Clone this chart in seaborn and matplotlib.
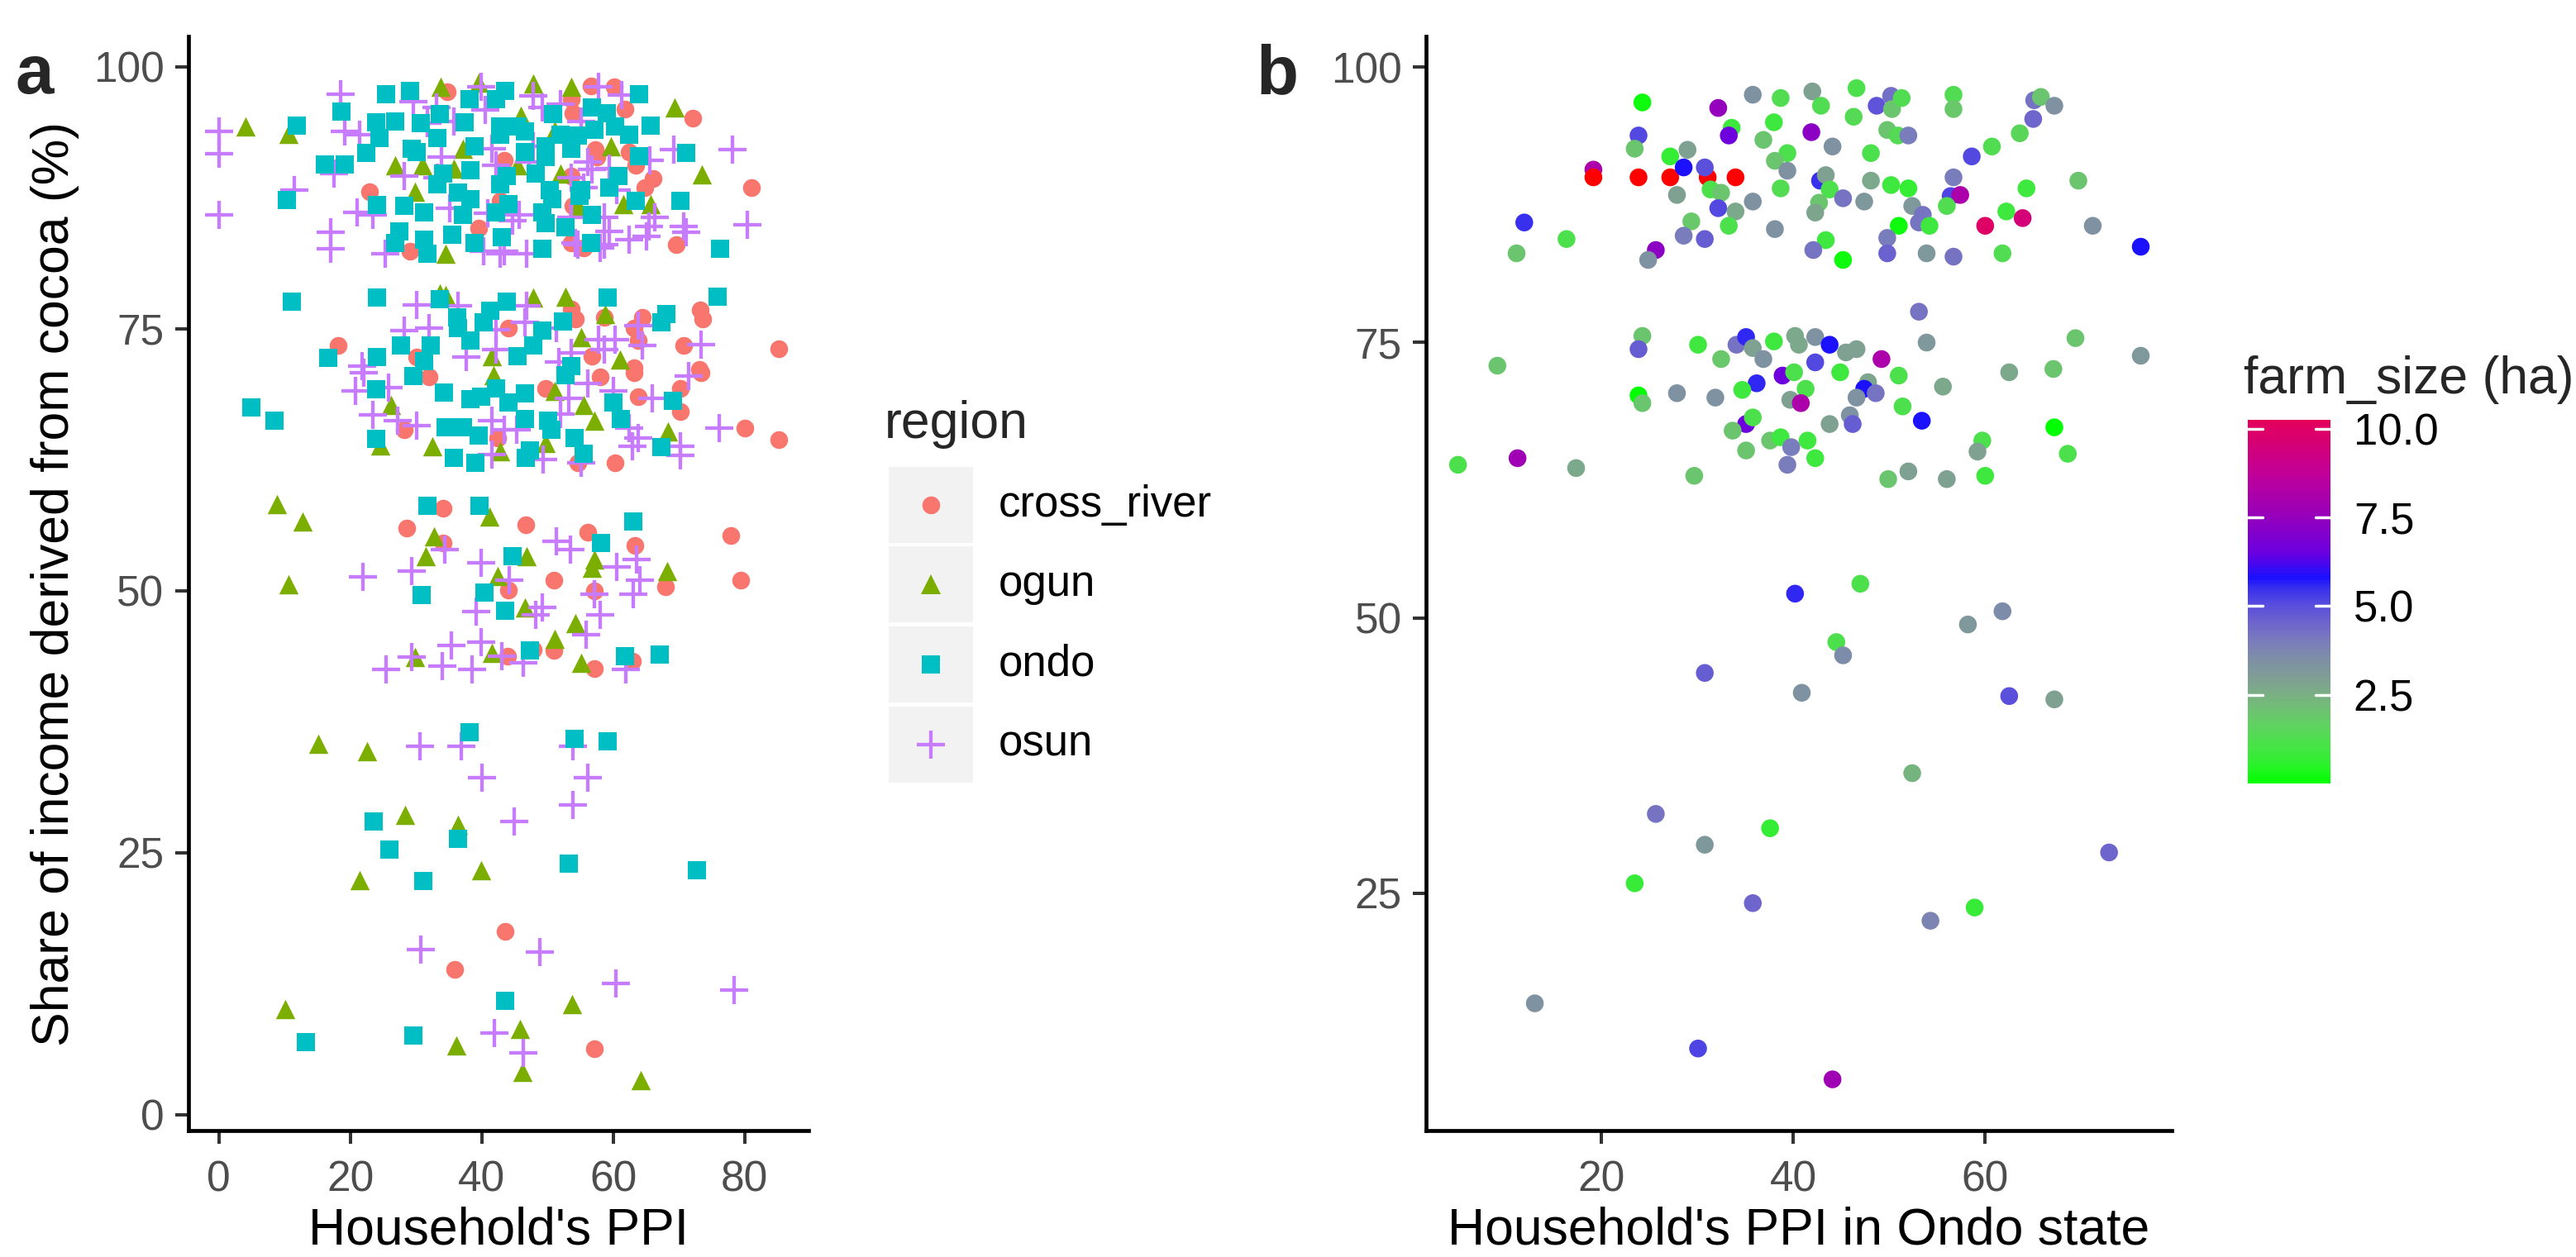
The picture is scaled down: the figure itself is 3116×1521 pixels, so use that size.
import numpy as np
import pandas as pd
import matplotlib
matplotlib.use("Agg")
import matplotlib.pyplot as plt
import matplotlib.colors as mcolors
from matplotlib.colors import LinearSegmentedColormap, Normalize
from matplotlib.patches import Rectangle
from matplotlib.lines import Line2D
import seaborn as sns

sns.set_theme(style="white")
plt.rcParams['font.family'] = ['Liberation Sans', 'DejaVu Sans']

# ---------------- DATA: panel a (PPI, share of income from cocoa) ----------------
cross_river = [
    (43.6, 17.5), (35.9, 13.9), (57.2, 6.3),
    (34.2, 57.9), (28.6, 56.0), (46.7, 56.3), (56.1, 55.6), (77.9, 55.3), (34.2, 54.6), (63.3, 54.3),
    (51.0, 51.0), (79.4, 51.0), (44.1, 50.1), (57.1, 50.0), (68.0, 50.4), (51.0, 44.3), (47.8, 44.4),
    (44.0, 43.8), (57.1, 42.6), (62.9, 43.3),
    (80.1, 65.5), (85.2, 64.4), (60.3, 62.2), (70.2, 69.3), (70.2, 67.1), (73.4, 70.8), (63.8, 68.5),
    (63.2, 70.8), (54.6, 62.2), (42.5, 64.6), (28.2, 65.4), (49.8, 69.3), (32.0, 70.4), (58.1, 70.4),
    (53.6, 76.9), (73.2, 76.8), (58.7, 76.1), (64.5, 76.1), (73.7, 75.9), (54.3, 75.9), (63.2, 75.1),
    (44.1, 75.1), (18.2, 73.4), (70.8, 73.4), (85.2, 73.1), (63.8, 73.9), (30.1, 72.3), (56.8, 72.4),
    (63.2, 71.3), (73.1, 71.1),
    (34.8, 97.6), (56.7, 98.2), (60.2, 98.1), (53.6, 96.9), (61.8, 96.0), (72.1, 95.1), (57.3, 92.1),
    (62.5, 91.9), (43.4, 91.1), (63.4, 90.6), (66.1, 89.3), (81.0, 88.5), (22.9, 88.1), (64.8, 88.5),
    (53.6, 89.6), (42.8, 87.2), (39.6, 84.6), (29.1, 82.4), (53.6, 83.2), (69.6, 83.0), (55.5, 82.7),
    (53.9, 95.6), (57.5, 91.4), (53.9, 86.7),
]
ogun = [
    (15.2, 35.4), (22.6, 34.7), (28.3, 28.6), (36.4, 27.7), (39.9, 23.3), (21.5, 22.4), (53.8, 10.6),
    (10.1, 10.1), (45.9, 8.2), (36.1, 6.6), (46.2, 4.1), (64.2, 3.3),
    (8.9, 58.3), (12.7, 56.6), (32.7, 55.2), (41.2, 57.1), (31.5, 53.3), (46.8, 53.3), (57.1, 53.0),
    (68.2, 51.9), (10.6, 50.6), (42.5, 51.4), (46.6, 48.4), (56.8, 52.2), (54.3, 46.9), (51.1, 45.4),
    (41.5, 44.1), (29.9, 43.7), (55.2, 43.1),
    (24.6, 63.9), (32.5, 63.8), (26.2, 67.7), (41.8, 70.6), (42.8, 63.3), (49.8, 64.1), (57.1, 66.2),
    (68.3, 65.2), (55.5, 67.7), (51.1, 69.1),
    (33.6, 78.4), (34.5, 78.2), (47.9, 78.0), (52.7, 78.1), (58.8, 76.4), (55.2, 74.2), (61.0, 72.1),
    (41.5, 72.4),
    (4.1, 94.3), (10.6, 93.6), (33.8, 98.1), (39.5, 98.5), (47.9, 98.4), (53.6, 98.1), (69.4, 96.1),
    (59.7, 92.4), (26.9, 90.6), (31.0, 90.6), (73.5, 89.7), (29.9, 88.1), (34.5, 82.2), (51.1, 93.9),
    (45.4, 90.6), (52.0, 89.8), (61.6, 86.9), (65.7, 86.9), (37.1, 92.2), (46.0, 95.3), (35.8, 90.3),
    (54.6, 86.7),
]
ondo = [
    (38.2, 36.5), (54.1, 35.9), (59.2, 35.6), (23.6, 28.0), (36.4, 26.3), (26.0, 25.3), (53.2, 24.0),
    (72.7, 23.3), (31.1, 22.3), (43.6, 10.9), (13.2, 6.9), (29.6, 7.6),
    (31.7, 58.1), (39.7, 58.1), (63.1, 56.6), (58.2, 54.6), (44.7, 53.3), (30.9, 49.6), (40.4, 49.8),
    (43.6, 48.1), (47.3, 44.3), (61.8, 43.8), (67.1, 43.9),
    (4.9, 67.5), (8.5, 66.2), (23.9, 69.2), (23.9, 64.5), (29.6, 70.5), (34.3, 68.9), (37.1, 65.6),
    (39.9, 68.5), (39.6, 64.8), (35.8, 62.7), (39.0, 62.2), (46.6, 68.8), (46.7, 62.7), (47.3, 63.4),
    (50.1, 66.2), (50.6, 65.4), (54.1, 64.6), (55.5, 63.1), (52.7, 70.6), (60.0, 68.0), (61.2, 66.4),
    (67.4, 63.7), (69.1, 68.1), (44.1, 68.0), (42.2, 69.3), (34.5, 65.6), (38.3, 68.3), (46.6, 66.4),
    (11.1, 77.6), (24.1, 78.0), (33.7, 77.8), (43.8, 77.6), (59.2, 78.0), (75.9, 78.1), (41.3, 76.7),
    (68.1, 76.4), (36.3, 76.1), (36.4, 75.1), (40.3, 75.6), (49.2, 74.8), (52.4, 75.7), (67.3, 75.6),
    (27.7, 73.4), (32.3, 73.4), (38.3, 73.9), (47.9, 73.4), (16.7, 72.2), (24.1, 72.3), (31.3, 71.9),
    (45.4, 72.4), (53.6, 71.4),
    (25.5, 97.4), (29.1, 97.7), (43.6, 97.7), (38.2, 96.9), (42.2, 96.9), (63.9, 97.4), (18.7, 95.7),
    (11.9, 94.4), (23.9, 94.7), (33.6, 95.5), (37.4, 94.7), (42.8, 94.3), (45.4, 94.3), (50.9, 95.5),
    (56.8, 96.1), (59.0, 95.6), (65.7, 94.4), (60.3, 94.3), (57.1, 94.0), (26.9, 94.8), (30.7, 94.6),
    (24.4, 93.2), (22.4, 91.8), (29.4, 92.2), (33.2, 93.2), (38.9, 92.4), (42.8, 93.5), (46.6, 93.8),
    (52.0, 93.5), (54.6, 93.4), (62.5, 93.5), (63.9, 91.5), (71.1, 91.8), (16.1, 90.7), (19.2, 90.7),
    (30.1, 91.9), (46.6, 91.9), (49.8, 92.4), (53.6, 92.2), (49.8, 91.4), (34.2, 89.8), (38.3, 90.1),
    (43.8, 89.6), (48.2, 89.8), (60.8, 89.6), (33.2, 88.8), (42.8, 88.8), (50.4, 88.2), (55.2, 88.2),
    (10.4, 87.3), (24.1, 86.8), (28.2, 86.7), (36.4, 88.0), (38.3, 87.4), (44.1, 86.9), (50.8, 87.4),
    (54.9, 87.7), (63.5, 87.2), (70.2, 87.2), (31.3, 86.1), (37.1, 85.9), (42.2, 86.1), (49.2, 86.1),
    (56.8, 85.9), (27.5, 84.3), (31.3, 83.5), (35.5, 84.0), (38.9, 83.2), (43.1, 83.7), (49.2, 82.6),
    (56.7, 83.2), (26.9, 83.2), (31.8, 82.2), (76.3, 82.6), (49.8, 85.1), (52.7, 84.7), (59.4, 88.5),
]
osun = [
    (30.6, 35.2), (36.9, 35.2), (53.9, 35.2), (40.1, 32.2), (56.2, 32.2), (53.9, 29.6), (44.9, 28.0),
    (30.7, 15.8), (48.9, 15.5), (60.4, 12.5), (78.4, 11.9), (42.0, 7.8), (46.4, 5.9),
    (51.4, 54.7), (53.5, 53.9), (34.4, 53.9), (39.9, 52.7), (29.4, 51.9), (60.6, 52.3), (63.6, 53.0),
    (22.0, 51.3), (44.2, 51.0), (64.1, 51.0), (57.1, 49.7), (63.1, 49.7), (39.2, 48.0), (49.2, 48.4),
    (48.2, 47.7), (58.0, 47.7), (55.9, 45.8), (35.4, 44.8), (39.9, 45.1), (29.4, 43.7), (25.4, 42.5),
    (34.0, 42.8), (38.5, 42.5), (46.3, 43.1), (62.0, 42.5), (43.1, 43.8),
    (22.1, 70.8), (20.8, 69.1), (23.4, 66.8), (27.2, 66.2), (30.1, 65.8), (25.9, 69.4), (41.5, 66.2),
    (43.4, 65.4), (45.3, 65.4), (49.3, 62.5), (53.3, 68.4), (55.2, 62.2), (62.5, 65.5), (63.8, 64.6),
    (66.0, 68.4), (62.9, 63.8), (70.2, 63.8), (70.2, 62.9), (76.2, 65.5), (71.5, 70.5), (60.0, 69.1),
    (41.5, 63.0), (52.0, 66.9), (56.2, 69.8),
    (30.1, 77.3), (36.4, 77.2), (46.9, 77.2), (46.6, 75.6), (28.2, 74.8), (32.0, 75.1), (42.2, 74.9),
    (51.4, 75.1), (57.8, 74.0), (60.3, 74.0), (63.8, 75.3), (73.4, 73.5), (58.7, 73.0), (53.6, 72.7),
    (37.7, 72.3), (42.2, 73.0), (64.5, 73.4), (51.7, 71.8), (21.8, 71.4),
    (0.0, 93.8), (0.0, 91.7), (0.0, 85.9), (18.6, 97.4), (39.9, 98.1), (57.8, 98.1), (61.3, 97.3),
    (29.6, 96.7), (33.1, 96.1), (19.2, 93.8), (21.5, 93.5), (11.5, 88.2), (17.6, 89.8), (28.2, 89.6),
    (21.1, 86.1), (23.4, 85.9), (17.0, 84.2), (17.0, 82.6), (25.3, 82.2), (69.2, 92.1), (78.2, 92.1),
    (65.6, 91.1), (80.4, 84.9), (66.4, 85.6), (70.8, 84.8), (71.1, 84.2), (65.4, 84.8), (65.1, 83.8),
    (62.5, 83.5), (59.4, 84.3), (58.7, 83.0), (54.6, 83.0), (49.2, 96.1), (47.9, 97.2), (52.0, 96.4),
    (55.2, 94.8), (40.6, 95.9), (35.8, 94.8), (31.7, 94.6), (33.9, 91.4), (41.5, 92.2), (47.9, 92.4),
    (56.2, 90.9), (56.8, 90.2), (59.4, 90.3), (33.2, 89.4), (42.2, 90.6), (47.2, 90.9), (53.6, 89.4),
    (55.5, 88.5), (60.6, 88.2), (35.2, 86.5), (40.9, 86.0), (45.7, 85.9), (53.6, 85.6), (58.7, 85.6),
    (40.3, 82.4), (42.8, 82.2), (46.9, 82.2), (54.3, 83.2), (58.1, 82.7), (44.7, 85.3), (43.4, 82.4),
]
regions = ["cross_river", "ogun", "ondo", "osun"]
region_colors = ["#F8766D", "#7CAE00", "#00BFC4", "#C77CFF"]
x_ticks_a = [0, 20, 40, 60, 80]
y_ticks_a = [0, 25, 50, 75, 100]

# ---------------- DATA: panel b (Ondo: PPI, share, farm size ha) ----------------
ondo_b = [
    (24.3, 96.8, 0.2), (32.2, 96.3, 7.5), (35.8, 97.5, 3.4), (38.7, 97.2, 1.3), (42.0, 97.8, 2.9),
    (42.9, 96.5, 1.3), (46.6, 98.1, 1.2), (46.3, 95.5, 1.4), (48.7, 96.5, 4.9), (50.2, 97.4, 4.3),
    (50.3, 96.2, 2.0), (51.3, 97.2, 1.3), (56.7, 97.5, 1.3), (56.7, 96.2, 1.9), (65.1, 97.0, 4.2),
    (65.8, 97.3, 2.0), (67.2, 96.5, 3.4), (65.0, 95.3, 4.5), (38.0, 95.0, 0.9), (33.6, 94.5, 0.9),
    (33.3, 93.8, 6.6), (41.9, 94.1, 7.3), (23.9, 93.8, 5.1), (23.5, 92.6, 2.0), (36.9, 93.4, 2.0),
    (49.8, 94.3, 2.0), (50.9, 93.8, 1.4), (52.0, 93.8, 4.0), (44.1, 92.8, 3.4), (48.1, 92.2, 1.2),
    (63.6, 94.0, 1.5), (60.7, 92.8, 1.3), (58.6, 91.9, 5.1), (27.2, 91.9, 0.7), (29.0, 92.5, 2.9),
    (39.4, 92.2, 1.2), (38.1, 91.5, 2.0), (39.4, 90.6, 3.4), (19.2, 90.7, 8.1),
    (19.2, 90.0, 12.0), (23.9, 90.0, 12.0), (27.2, 90.0, 12.0), (31.1, 90.0, 12.0), (34.0, 90.0, 12.0),
    (28.6, 90.9, 5.8), (30.8, 90.9, 5.0), (42.8, 89.7, 5.5), (43.4, 90.2, 2.9), (43.8, 88.9, 1.2),
    (48.1, 89.7, 2.7), (50.2, 89.3, 0.9), (52.0, 89.0, 0.7), (56.7, 90.0, 4.0), (56.4, 88.3, 5.2),
    (57.4, 88.4, 8.1), (64.3, 89.0, 0.9), (69.7, 89.7, 2.0), (38.7, 89.0, 1.3), (31.4, 88.9, 1.2),
    (32.5, 88.6, 2.0), (27.9, 88.4, 2.9), (35.8, 87.8, 3.4), (32.2, 87.2, 5.1), (34.0, 86.9, 2.7),
    (42.7, 87.7, 2.0), (42.3, 86.8, 2.8), (45.2, 88.1, 4.2), (47.4, 87.8, 3.2), (52.4, 87.4, 3.2),
    (56.0, 87.4, 1.3), (53.5, 86.6, 4.2), (53.1, 85.9, 4.2), (62.2, 86.9, 0.9), (63.9, 86.3, 9.5),
    (60.0, 85.6, 10.0), (51.0, 85.6, 0.2), (54.2, 85.6, 0.9), (71.2, 85.6, 3.4), (12.0, 85.9, 5.5),
    (29.4, 86.0, 1.9), (33.3, 85.6, 1.2), (38.1, 85.3, 3.4), (28.6, 84.7, 4.0), (30.8, 84.4, 4.7),
    (16.4, 84.4, 1.2), (43.4, 84.3, 0.9), (42.1, 83.4, 4.2), (49.8, 84.5, 4.0), (11.2, 83.1, 2.0),
    (25.7, 83.4, 7.3), (24.9, 82.5, 3.4), (45.2, 82.5, 0.2), (49.8, 83.1, 4.6), (53.9, 83.1, 3.2),
    (56.7, 82.8, 4.2), (61.8, 83.1, 1.3), (76.2, 83.7, 5.8), (53.1, 77.8, 4.2),
    (24.3, 75.6, 2.0), (23.9, 74.4, 4.7), (30.1, 74.8, 0.9), (34.1, 74.8, 4.2), (35.1, 75.5, 5.6),
    (35.8, 74.5, 2.9), (38.0, 75.1, 0.9), (40.2, 75.6, 2.7), (40.6, 74.8, 2.7), (42.3, 75.5, 3.4),
    (43.8, 74.8, 5.8), (46.6, 74.4, 2.9), (45.5, 74.1, 2.9), (53.9, 75.0, 3.2), (69.4, 75.4, 2.0),
    (76.2, 73.8, 3.2), (9.2, 72.9, 2.0), (32.5, 73.5, 1.9), (36.9, 73.5, 3.4), (42.3, 73.2, 5.1),
    (49.2, 73.5, 8.1), (62.5, 72.3, 2.7), (67.1, 72.6, 2.0), (38.9, 72.0, 6.6), (40.1, 72.3, 1.2),
    (36.2, 71.3, 5.6), (44.9, 72.3, 0.9), (51.0, 72.0, 1.2), (55.6, 71.0, 2.7), (34.7, 70.7, 0.9),
    (41.3, 70.8, 1.2), (47.8, 71.4, 2.8), (47.4, 70.8, 5.8), (48.6, 70.4, 4.2), (46.6, 70.0, 3.4),
    (27.9, 70.4, 3.4), (31.9, 70.0, 3.4), (23.9, 70.2, 0.0), (24.3, 69.5, 2.0), (39.7, 69.8, 2.9),
    (40.8, 69.5, 8.1), (51.4, 69.2, 1.2), (53.4, 67.9, 5.8), (67.2, 67.3, 0.0), (45.9, 68.4, 3.4),
    (46.2, 67.6, 4.7), (43.8, 67.6, 2.9), (35.1, 67.6, 6.6), (35.8, 68.2, 1.2), (33.7, 67.0, 2.0),
    (37.6, 66.1, 2.0), (38.7, 66.4, 0.9), (41.5, 66.1, 0.9), (39.8, 65.5, 4.0), (59.7, 66.1, 1.2),
    (59.2, 65.1, 2.9), (35.1, 65.2, 2.0), (42.3, 64.5, 0.9), (68.6, 64.9, 1.2), (5.1, 63.9, 1.2),
    (11.3, 64.5, 7.8), (17.4, 63.6, 2.7), (39.4, 63.9, 4.0), (29.7, 62.9, 2.0), (49.9, 62.6, 2.0),
    (52.0, 63.3, 2.9), (56.0, 62.6, 2.9), (60.0, 62.9, 0.9),
    (47.0, 53.1, 1.2), (40.2, 52.2, 5.6), (61.8, 50.6, 3.6), (58.2, 49.4, 3.2), (44.5, 47.8, 1.2),
    (45.2, 46.6, 3.6), (30.8, 45.0, 4.7), (40.9, 43.2, 3.4), (62.5, 42.9, 5.0), (67.2, 42.6, 2.9),
    (52.4, 35.9, 2.4), (25.7, 32.2, 4.2), (37.6, 30.9, 0.7), (30.8, 29.4, 3.2), (72.9, 28.7, 4.5),
    (23.5, 25.9, 0.8), (35.8, 24.1, 4.5), (58.9, 23.7, 0.8), (54.3, 22.5, 3.8), (13.1, 15.0, 3.4),
    (30.1, 10.9, 5.2), (44.1, 8.1, 7.8),
]
x_ticks_b = [20, 40, 60]
y_ticks_b = [25, 50, 75, 100]
cbar_ticks = [2.5, 5.0, 7.5, 10.0]
cbar_tick_labels = ["2.5", "5.0", "7.5", "10.0"]
FS_MAX = 10.25
cbar_anchors = [
    (0.0, "#00FF00"), (0.5, "#2AF22A"), (1.0, "#45E545"), (1.5, "#5AD65A"), (2.0, "#6CC46F"),
    (2.5, "#7AAF84"), (3.0, "#7F9D95"), (3.5, "#7E8FA6"), (4.0, "#7A7CBC"), (4.5, "#6E66CC"),
    (5.0, "#5A4FDC"), (5.5, "#3A30EE"), (5.8, "#1A10FF"), (6.5, "#6A00E0"), (7.5, "#9400BC"),
    (8.7, "#C0009A"), (FS_MAX, "#E4005A"),
]

# ---------------- FIGURE ----------------
W, H = 3116, 1521
fig = plt.figure(figsize=(W / 100, H / 100), dpi=100)
fig.patch.set_facecolor("white")

def fx(x):
    return x / W

def fy(y):
    return 1 - y / H

TOP, BOT = 44, 1368
axa = fig.add_axes([fx(228), fy(BOT), (977.7 - 228) / W, (BOT - TOP) / H])
axb = fig.add_axes([fx(1725.3), fy(BOT), (2626.7 - 1725.3) / W, (BOT - TOP) / H])

# panel a
rows = []
for reg, pts in zip(regions, [cross_river, ogun, ondo, osun]):
    for p, s in pts:
        rows.append((p, s, reg))
df_a = pd.DataFrame(rows, columns=["ppi", "share", "region"])

marker_style = {
    "cross_river": dict(marker="o", s=240, linewidth=0),
    "ogun": dict(marker="^", s=285, linewidth=0),
    "ondo": dict(marker="s", s=255, linewidth=0),
    "osun": dict(marker="+", s=600, linewidth=3.1),
}
col = dict(zip(regions, region_colors))
for reg in ["cross_river", "ogun", "osun", "ondo"]:
    sub = df_a[df_a["region"] == reg]
    sns.scatterplot(data=sub, x="ppi", y="share", color=col[reg], ax=axa, legend=False,
                    **marker_style[reg])

axa.set_xlim(-4.6, 89.7)
axa.set_ylim(-1.5, 102.9)
axa.set_xticks(x_ticks_a)
axa.set_yticks(y_ticks_a)

# panel b
df_b = pd.DataFrame(ondo_b, columns=["ppi", "share", "farm_size"])
cmap = LinearSegmentedColormap.from_list("farm", [(v / FS_MAX, c) for v, c in cbar_anchors])
norm = Normalize(0, FS_MAX)
pal = {v: (mcolors.to_hex(cmap(norm(v))) if v <= FS_MAX else "#FF0000")
       for v in df_b["farm_size"].unique()}
sns.scatterplot(data=df_b, x="ppi", y="share", hue="farm_size", palette=pal, s=240,
                linewidth=0, ax=axb, legend=False)
axb.set_xlim(1.8, 79.4)
axb.set_ylim(3.45, 102.8)
axb.set_xticks(x_ticks_b)
axb.set_yticks(y_ticks_b)

for ax in (axa, axb):
    ax.set_xlabel("")
    ax.set_ylabel("")
    ax.grid(False)
    ax.set_facecolor("white")
    for s in ["top", "right"]:
        ax.spines[s].set_visible(False)
    for s in ["left", "bottom"]:
        ax.spines[s].set_linewidth(3.4)
        ax.spines[s].set_color("black")
        ax.spines[s].set_capstyle("projecting")
    ax.tick_params(axis="both", which="major", length=11.7, width=2.9, color="#333333",
                   labelcolor="#4D4D4D", labelsize=37, direction="out",
                   bottom=True, left=True)
    ax.tick_params(axis="x", pad=13.5)
    ax.tick_params(axis="y", pad=9.5)

# axis titles
fig.text(fx((228 + 977.7) / 2), fy(1506), "Household's PPI", ha="center", va="baseline",
         fontsize=45, color="black")
fig.text(fx((1725.3 + 2626.7) / 2), fy(1506), "Household's PPI in Ondo state", ha="center",
         va="baseline", fontsize=45, color="black")
fig.text(fx(67), fy(706), "Share of income derived from cocoa (%)", rotation=90, ha="center",
         va="center", fontsize=45, color="black")

# panel tags
fig.text(fx(42), fy(113), "a", ha="center", va="baseline", fontsize=60, fontweight="bold")
fig.text(fx(1545), fy(113), "b", ha="center", va="baseline", fontsize=60, fontweight="bold")

# region legend (ggplot style)
fig.text(fx(1070), fy(530), "region", ha="left", va="baseline", fontsize=45)
key_tops = [565, 661, 758, 855]
key_h = 92
key_x0, key_w = 1075, 102
legend_markers = {
    "cross_river": dict(marker="o", markersize=15.5, mew=0),
    "ogun": dict(marker="^", markersize=16.9, mew=0),
    "ondo": dict(marker="s", markersize=16.0, mew=0),
    "osun": dict(marker="+", markersize=24.5, mew=3.1),
}
for reg, c, t in zip(regions, region_colors, key_tops):
    fig.add_artist(Rectangle((fx(key_x0), fy(t + key_h)), key_w / W, key_h / H,
                             transform=fig.transFigure, facecolor="#F2F2F2",
                             edgecolor="none"))
    cy = t + key_h / 2
    fig.add_artist(Line2D([fx(key_x0 + key_w / 2)], [fy(cy)], color=c, linestyle="none",
                          transform=fig.transFigure, **legend_markers[reg]))
    fig.text(fx(1208), fy(cy), reg, ha="left", va="center", fontsize=38, color="black")

# colour bar
fig.text(fx(2714), fy(476), "farm_size (ha)", ha="left", va="baseline", fontsize=45)
cb_top, cb_bot = 508, 948
cax = fig.add_axes([fx(2719), fy(cb_bot), 100 / W, (cb_bot - cb_top) / H])
sm = plt.cm.ScalarMappable(norm=norm, cmap=cmap)
cb = fig.colorbar(sm, cax=cax, ticks=cbar_ticks)
cb.outline.set_visible(False)
cax.set_yticklabels(cbar_tick_labels)
cax.tick_params(axis="y", length=0, pad=20, labelsize=38, labelcolor="black")
for t in cbar_ticks:
    cax.axhline(t, xmin=0, xmax=0.18, color="white", lw=2.5)
    cax.axhline(t, xmin=0.82, xmax=1.0, color="white", lw=2.5)

fig.savefig("out.png", dpi=100, facecolor="white")
